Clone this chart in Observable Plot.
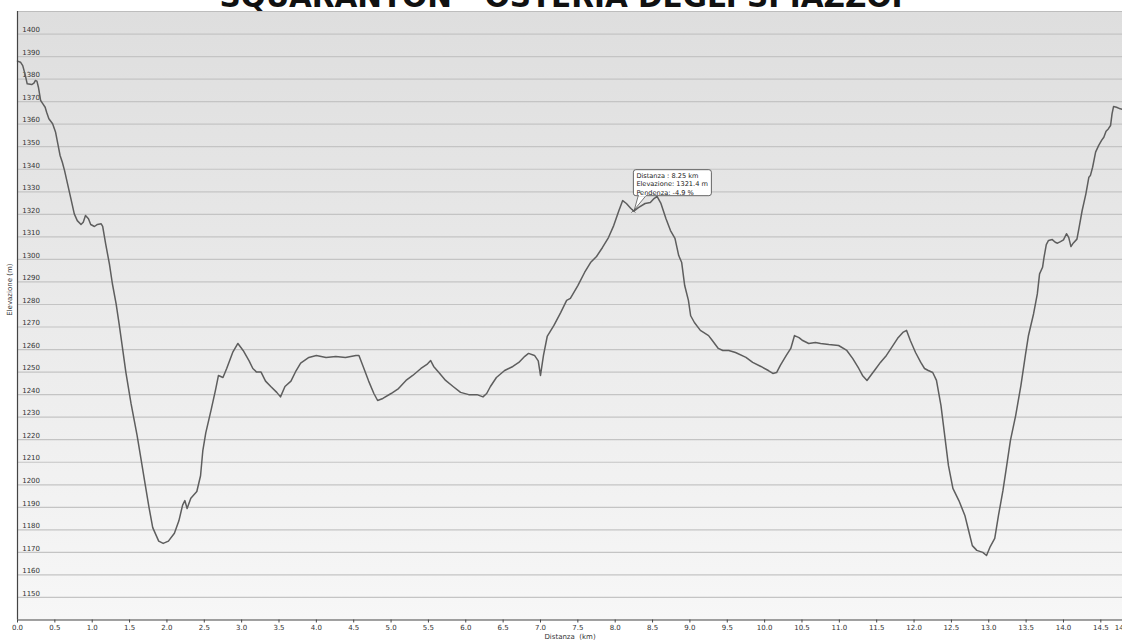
<!DOCTYPE html>
<html><head><meta charset="utf-8">
<script src="https://cdn.jsdelivr.net/npm/d3@7"></script>
<script src="https://cdn.jsdelivr.net/npm/@observablehq/plot@0.6"></script>
<style>
html,body{margin:0;padding:0;background:#fff;overflow:hidden}
#wrap{position:relative;width:1122px;height:641px;overflow:hidden}
#chart svg{display:block}
#title{position:absolute;left:0;width:1122px;top:-17px;text-align:center;font:bold 29.5px "DejaVu Sans";line-height:29.5px;color:#111;white-space:nowrap}
</style></head><body>
<div id="wrap"><div id="chart"></div><div id="title">SQUARANTON - OSTERIA DEGLI SPIAZZOI</div></div>
<script>
const dist = [0.00,0.04,0.07,0.10,0.13,0.19,0.22,0.24,0.26,0.28,0.31,0.34,0.37,0.39,0.42,0.47,0.51,0.54,0.57,0.60,0.63,0.67,0.71,0.76,0.80,0.85,0.88,0.91,0.95,0.98,1.03,1.07,1.12,1.14,1.18,1.23,1.27,1.32,1.36,1.40,1.45,1.52,1.60,1.65,1.71,1.76,1.81,1.89,1.95,2.02,2.10,2.16,2.21,2.24,2.27,2.32,2.40,2.45,2.48,2.52,2.59,2.65,2.69,2.75,2.80,2.88,2.95,3.02,3.10,3.15,3.20,3.26,3.32,3.39,3.47,3.52,3.58,3.66,3.73,3.79,3.90,4.00,4.13,4.26,4.39,4.53,4.57,4.62,4.70,4.77,4.82,4.89,5.00,5.10,5.20,5.29,5.40,5.48,5.53,5.57,5.64,5.73,5.83,5.93,6.04,6.15,6.23,6.28,6.33,6.41,6.52,6.63,6.71,6.79,6.84,6.92,6.97,7.00,7.04,7.09,7.18,7.27,7.35,7.40,7.50,7.59,7.67,7.75,7.83,7.91,7.98,8.05,8.10,8.15,8.21,8.25,8.31,8.40,8.47,8.52,8.56,8.61,8.68,8.74,8.80,8.85,8.89,8.93,8.98,9.01,9.06,9.14,9.25,9.30,9.38,9.44,9.52,9.61,9.75,9.84,9.95,10.05,10.11,10.16,10.21,10.29,10.35,10.40,10.46,10.51,10.59,10.68,10.75,10.86,10.99,11.10,11.18,11.26,11.31,11.37,11.42,11.49,11.55,11.63,11.71,11.78,11.85,11.90,11.95,12.02,12.09,12.14,12.19,12.25,12.30,12.36,12.41,12.46,12.52,12.60,12.68,12.73,12.78,12.84,12.92,12.97,13.02,13.08,13.13,13.19,13.23,13.29,13.36,13.43,13.49,13.53,13.60,13.65,13.68,13.72,13.74,13.77,13.80,13.85,13.89,13.92,13.96,14.00,14.04,14.07,14.10,14.13,14.18,14.21,14.25,14.30,14.34,14.36,14.39,14.43,14.47,14.51,14.54,14.57,14.60,14.63,14.65,14.67,14.71,14.76,14.79];
const elev = [1388,1387.5,1386,1382.3,1377.9,1377.6,1378.2,1379.4,1379.1,1376.4,1370.5,1369,1367.5,1365.3,1362.4,1360.2,1356.4,1351.3,1346.1,1343.1,1339.4,1333.5,1327.6,1320.2,1317.2,1315.5,1316.5,1319.5,1318,1315.5,1314.6,1315.5,1315.8,1314.7,1306.9,1298,1289.2,1280.3,1271.4,1262,1250,1236,1222,1212,1200,1190,1181,1175,1174,1175,1178.5,1184,1191,1193,1189.5,1194,1197,1204,1215,1223,1233,1242,1248.5,1247.6,1251.6,1258.7,1262.7,1259.6,1255,1251.6,1250,1250,1246,1243.6,1241,1239,1243.6,1246,1250.7,1254,1256.5,1257.4,1256.5,1256.9,1256.5,1257.4,1257.4,1253,1246,1240.5,1237.4,1238.3,1240.5,1242.7,1246.3,1248.5,1251.6,1253.4,1255.1,1252.5,1249.8,1246.3,1243.6,1241,1240,1240,1239,1240.5,1243.6,1247.6,1250.7,1252.5,1254.3,1257,1258.3,1257.4,1255,1248.5,1257.4,1265.8,1270.7,1276.4,1281.8,1282.7,1288.4,1294.2,1298.6,1301.3,1305.3,1309.7,1315,1321.7,1326.1,1324.8,1322.6,1321.4,1323,1324.8,1325.2,1327,1328,1325,1318,1312.8,1309.3,1301.7,1298.6,1288.4,1281.8,1275,1272,1268.5,1266.2,1264,1260.5,1259.6,1259.6,1258.7,1256.5,1254.3,1252.5,1250.7,1249.4,1249.8,1253,1257.4,1260.5,1266.2,1265.3,1264,1262.7,1263.1,1262.7,1262.2,1261.8,1259.6,1256,1251.6,1248.5,1246.3,1248.5,1251.6,1254.3,1257.4,1261.4,1265,1267.6,1268.5,1264,1258.7,1254.3,1251.6,1250.7,1249.8,1246.3,1235.2,1221.9,1208.6,1198.4,1193,1186.4,1179.7,1173,1170.9,1170,1168.6,1172.6,1176.2,1186.4,1197.5,1206.3,1219.7,1230.7,1244,1257.4,1266,1275.9,1284.7,1293.6,1296.5,1301,1306.6,1308.4,1308.8,1307.6,1307.2,1307.9,1308.7,1311.4,1309.8,1305.7,1307.2,1309,1314.3,1321.7,1329.1,1336.5,1337.2,1340.9,1347.6,1350.5,1352.8,1354.2,1356.9,1357.9,1359.4,1364.6,1367.8,1367.5,1366.8,1366.6];
const xTicks = [0,0.5,1,1.5,2,2.5,3,3.5,4,4.5,5,5.5,6,6.5,7,7.5,8,8.5,9,9.5,10,10.5,11,11.5,12,12.5,13,13.5,14,14.5,14.79];
const yTicks = [1150,1160,1170,1180,1190,1200,1210,1220,1230,1240,1250,1260,1270,1280,1290,1300,1310,1320,1330,1340,1350,1360,1370,1380,1390,1400];
const tipDist = 8.25, tipElev = 1321.4;
const tipLines = ["Distanza : 8.25 km", "Elevazione: 1321.4 m", "Pendenza: -4.9 %"];
const xLabel = "Distanza  (km)";
const yLabel = "Elevazione (m)";

const data = dist.map((d, i) => ({d, e: elev[i]}));
const font = "DejaVu Sans";

function tooltip(index, scales) {
  const px = scales.x(tipDist), py = scales.y(tipElev);
  const g = d3.create("svg:g").attr("text-anchor", "start");
  g.append("path")
    .attr("d", `M${px+5},${py-15.5} L${px+1},${py-1} L${px+13},${py-15.5}`)
    .attr("fill", "#fff").attr("stroke", "#555").attr("stroke-width", 0.8);
  g.append("rect").attr("x", px).attr("y", py-41).attr("width", 78).attr("height", 26)
    .attr("rx", 2.5).attr("fill", "#fff").attr("stroke", "#555").attr("stroke-width", 0.9);
  g.append("rect").attr("x", px+5.5).attr("y", py-16.5).attr("width", 7).attr("height", 2).attr("fill", "#fff");
  g.append("path").attr("d", `M${px-2},${py-2} L${px+2},${py+2} M${px-2},${py+2} L${px+2},${py-2}`)
    .attr("stroke", "#555").attr("stroke-width", 0.8);
  tipLines.forEach((t, i) => {
    g.append("text").attr("x", px+3).attr("y", py-32.5 + i*8.3).attr("font-family", font)
      .attr("text-anchor", "start")
      .attr("font-size", 6.6).attr("fill", "#222").text(t);
  });
  return g.node();
}

const plot = Plot.plot({
  width: 1122, height: 641,
  marginLeft: 17, marginRight: 0, marginTop: 11, marginBottom: 21.5,
  style: {fontFamily: font, background: "#fff", overflow: "visible"},
  x: {domain: [0, 14.79]},
  y: {domain: [1140, 1410]},
  marks: [
    Plot.frame({fill: "url(#bggrad)", stroke: null}),
    Plot.ruleY(yTicks, {stroke: "#c4c4c4", strokeWidth: 1.2}),
    Plot.text(yTicks, {y: d => d, text: d => String(d), frameAnchor: "left", dx: 4.7, dy: -4, textAnchor: "start", fontSize: 7, fill: "#333"}),
    Plot.ruleY([1410], {stroke: "#bdbdbd", strokeWidth: 1}),
    Plot.lineY(data, {x: "d", y: "e", stroke: "#5e5e5e", strokeWidth: 1.5}),
    Plot.ruleX([0], {stroke: "#444", strokeWidth: 1.2}),
    Plot.ruleY([1140], {stroke: "#444", strokeWidth: 1.2}),
    Plot.axisX({ticks: xTicks, tickFormat: d => d.toFixed(1), tickSize: 3, tickPadding: 2, fontSize: 7, label: null, stroke: "#444", fill: "#333"}),
    Plot.axisY({ticks: [], label: null, tickSize: 0}),
    Plot.text([xLabel], {frameAnchor: "bottom", dy: 18.5, fontSize: 7, fill: "#333"}),
    Plot.text([yLabel], {frameAnchor: "left", dx: -8, rotate: -90, fontSize: 7, fill: "#333"}),
    tooltip
  ]
});
const defs = d3.select(plot).insert("defs", ":first-child");
const grad = defs.append("linearGradient").attr("id", "bggrad").attr("x1", 0).attr("y1", 0).attr("x2", 0).attr("y2", 1);
grad.append("stop").attr("offset", "0%").attr("stop-color", "#dedede");
grad.append("stop").attr("offset", "100%").attr("stop-color", "#f7f7f7");
document.getElementById("chart").appendChild(plot);
</script>
</body></html>
